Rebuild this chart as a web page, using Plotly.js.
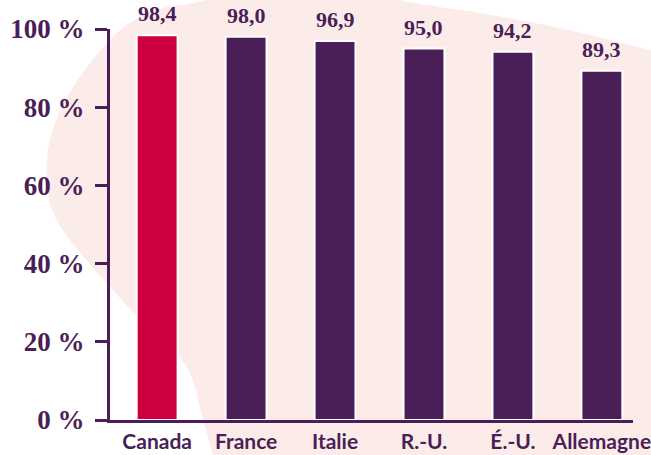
<!DOCTYPE html>
<html>
<head>
<meta charset="utf-8">
<script src="https://cdn.plot.ly/plotly-3.0.1.min.js"></script>
<style>
  html, body { margin: 0; padding: 0; background: #ffffff; }
  #chart { width: 651px; height: 455px; }
</style>
</head>
<body>
<div id="chart"></div>
<script>
// Part des répondants, par pays (%)
const countries = ['Canada', 'France', 'Italie', 'R.-U.', 'É.-U.', 'Allemagne'];
const shares = [98.4, 98.0, 96.9, 95.0, 94.2, 89.3];
const yTicks = [0, 20, 40, 60, 80, 100];

const PURPLE = '#4a1f57';
const CRIMSON = '#cc003f';
const BLUSH = '#fbecea';

const W = 651, H = 455;
const M = { l: 110, r: 18, t: 29, b: 35 };

// Decorative background blob, described in page pixels and converted to paper units.
const blobLeft = [
  [260, -25], [205, 0], [163, 8], [130, 23], [110, 40], [87, 67], [67, 97],
  [55, 123], [48, 150], [47, 180], [52, 210], [70, 240], [110, 287], [150, 330],
  [187, 367], [203, 420], [213, 455], [222, 490]
];
const blobTop = [[720, 65], [650, 50], [560, 28], [480, 13], [440, 7], [400, 0], [330, -18], [260, -25]];

function toPaper(p) {
  const pw = W - M.l - M.r, ph = H - M.t - M.b;
  return [((p[0] - M.l) / pw).toFixed(4), ((H - M.b - p[1]) / ph).toFixed(4)];
}
function smoothSegments(pts) {
  // Catmull-Rom spline through the points, written as cubic Bezier segments
  let d = '';
  for (let i = 0; i < pts.length - 1; i++) {
    const p0 = pts[Math.max(i - 1, 0)], p1 = pts[i], p2 = pts[i + 1], p3 = pts[Math.min(i + 2, pts.length - 1)];
    const c1 = [p1[0] + (p2[0] - p0[0]) / 6, p1[1] + (p2[1] - p0[1]) / 6];
    const c2 = [p2[0] - (p3[0] - p1[0]) / 6, p2[1] - (p3[1] - p1[1]) / 6];
    d += ' C ' + toPaper(c1).join(',') + ' ' + toPaper(c2).join(',') + ' ' + toPaper(p2).join(',');
  }
  return d;
}
let blobPath = 'M ' + toPaper(blobLeft[0]).join(',') + smoothSegments(blobLeft);
blobPath += ' L ' + toPaper([720, 490]).join(',');
blobPath += ' L ' + toPaper(blobTop[0]).join(',') + smoothSegments(blobTop) + ' Z';

const barColors = countries.map((c, i) => i === 0 ? CRIMSON : PURPLE);

const trace = {
  type: 'bar',
  x: countries,
  y: shares,
  width: 0.46,
  marker: { color: barColors, line: { color: '#ffffff', width: 2 } },
  hoverinfo: 'skip',
  cliponaxis: false
};

const valueLabels = countries.map((c, i) => ({
  x: c, y: shares[i], xref: 'x', yref: 'y',
  text: shares[i].toFixed(1).replace('.', ','),
  showarrow: false, yanchor: 'bottom', yshift: 7,
  font: { family: 'Liberation Serif', size: 22, color: PURPLE, weight: 'bold' }
}));

const layout = {
  width: W, height: H,
  margin: M,
  paper_bgcolor: '#ffffff',
  plot_bgcolor: 'rgba(0,0,0,0)',
  showlegend: false,
  xaxis: {
    type: 'category',
    range: [-0.53, 5.35],
    showline: true, linecolor: PURPLE, linewidth: 3,
    ticks: '', showgrid: false, zeroline: false,
    tickfont: { family: 'Lato', size: 21, color: PURPLE, weight: 'bold' },
    ticklabelstandoff: 1,
    fixedrange: true
  },
  yaxis: {
    range: [0, 100],
    tickvals: yTicks,
    ticktext: yTicks.map(v => v + ' %'),
    showline: true, linecolor: PURPLE, linewidth: 3,
    ticks: 'outside', ticklen: 12, tickwidth: 3, tickcolor: PURPLE,
    showgrid: false, zeroline: false,
    tickfont: { family: 'Liberation Serif', size: 27, color: PURPLE, weight: 'bold' },
    ticklabelstandoff: 5,
    fixedrange: true
  },
  shapes: [{
    type: 'path', xref: 'paper', yref: 'paper', layer: 'below',
    path: blobPath, fillcolor: BLUSH, line: { width: 0 }
  }],
  annotations: valueLabels
};

Plotly.newPlot('chart', [trace], layout, { displayModeBar: false, staticPlot: true });
</script>
</body>
</html>
